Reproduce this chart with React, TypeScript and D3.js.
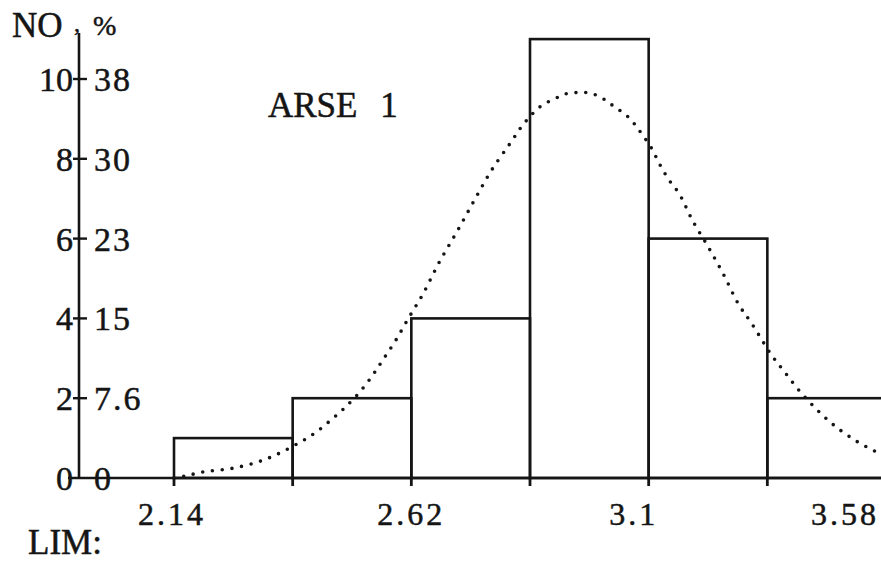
import React, { useRef, useEffect } from 'react';
import * as d3 from 'd3';

// histogram bins (class limits) and counts
const binEdges = [2.14, 2.38, 2.62, 2.86, 3.1, 3.34, 3.58];
const counts = [1, 2, 4, 11, 6, 2];

// axis labels
const noTicks = [0, 2, 4, 6, 8, 10];
const pctLabels = ['0', '7.6', '15', '23', '30', '38'];
const limTicks = [2.14, 2.62, 3.1, 3.58];
const limLabels = ['2.14', '2.62', '3.1', '3.58'];

// dotted fitted curve
const curveX = [2.14, 2.162, 2.203, 2.257, 2.314, 2.346, 2.378, 2.408, 2.432, 2.459, 2.482, 2.516, 2.542, 2.563, 2.587, 2.614, 2.643, 2.677, 2.713, 2.747, 2.781, 2.82, 2.847, 2.88, 2.916, 2.936, 2.956, 2.975, 2.993, 3.014, 3.032, 3.053, 3.07, 3.085, 3.106, 3.122, 3.141, 3.162, 3.188, 3.22, 3.251, 3.282, 3.309, 3.348, 3.376, 3.408, 3.443, 3.48, 3.522, 3.558];
const curveY = [0, 0.05, 0.16, 0.24, 0.42, 0.58, 0.78, 0.99, 1.19, 1.47, 1.72, 2.16, 2.58, 2.97, 3.42, 4.0, 4.6, 5.42, 6.19, 6.95, 7.69, 8.39, 8.87, 9.3, 9.54, 9.64, 9.66, 9.66, 9.6, 9.46, 9.29, 9.11, 8.89, 8.64, 8.26, 7.87, 7.47, 7.12, 6.47, 5.8, 5.11, 4.35, 3.86, 3.09, 2.64, 2.14, 1.68, 1.27, 0.91, 0.67];

const W = 881;
const H = 561;
const FONT = '"Liberation Serif", "DejaVu Serif", serif';
const INK = '#151515';

// horizontal nudges for the hand-placed LIM labels
const limShift = [-2, 0, -15, -41];

export default function App() {
  const svgRef = useRef(null);

  useEffect(() => {
    const svg = d3.select(svgRef.current);
    svg.selectAll('*').remove();

    const x = d3.scaleLinear().domain([2.14, 3.58]).range([174, 886]);
    const y = d3.scaleLinear().domain([0, 10]).range([478, 79]);
    const axisX = 79;

    // bars
    const bins = counts.map((c, i) => ({ x0: binEdges[i], x1: binEdges[i + 1], c }));
    svg.append('g')
      .selectAll('rect')
      .data(bins)
      .join('rect')
      .attr('x', d => x(d.x0))
      .attr('y', d => y(d.c))
      .attr('width', d => x(d.x1) - x(d.x0))
      .attr('height', d => y(0) - y(d.c))
      .attr('fill', 'none')
      .attr('stroke', INK)
      .attr('stroke-width', 2.6);

    // x axis line + ticks under the bin edges
    svg.append('line')
      .attr('x1', 68).attr('x2', W)
      .attr('y1', y(0)).attr('y2', y(0))
      .attr('stroke', INK).attr('stroke-width', 2.6);
    svg.append('g')
      .selectAll('line')
      .data(binEdges)
      .join('line')
      .attr('x1', d => x(d)).attr('x2', d => x(d))
      .attr('y1', y(0)).attr('y2', y(0) + 8)
      .attr('stroke', INK).attr('stroke-width', 2.8);

    // y axis
    svg.append('line')
      .attr('x1', axisX).attr('x2', axisX)
      .attr('y1', 33).attr('y2', y(0))
      .attr('stroke', INK).attr('stroke-width', 2.6);
    svg.append('g')
      .selectAll('line')
      .data(noTicks.filter(d => d > 0))
      .join('line')
      .attr('x1', axisX - 6).attr('x2', axisX + 8)
      .attr('y1', d => y(d)).attr('y2', d => y(d))
      .attr('stroke', INK).attr('stroke-width', 2.4);

    const txt = svg.append('g')
      .attr('font-family', FONT)
      .attr('fill', INK)
      .attr('stroke', INK)
      .attr('stroke-width', 0.5);

    txt.selectAll('text.no')
      .data(noTicks)
      .join('text')
      .attr('class', 'no')
      .attr('x', axisX - 6)
      .attr('y', d => y(d) + 12)
      .attr('text-anchor', 'end')
      .attr('font-size', 34)
      .text(d => d);

    txt.selectAll('text.pct')
      .data(pctLabels)
      .join('text')
      .attr('class', 'pct')
      .attr('x', axisX + 15)
      .attr('y', (d, i) => y(noTicks[i]) + 12)
      .attr('font-size', 34)
      .attr('letter-spacing', 2)
      .text(d => d);

    txt.selectAll('text.lim')
      .data(limTicks)
      .join('text')
      .attr('class', 'lim')
      .attr('x', (d, i) => x(d) + limShift[i])
      .attr('y', 525)
      .attr('text-anchor', 'middle')
      .attr('font-size', 32)
      .attr('letter-spacing', 3)
      .text((d, i) => limLabels[i]);

    txt.append('text').attr('x', 12).attr('y', 37).attr('font-size', 35).text('NO');
    txt.append('text').attr('x', 74).attr('y', 31).attr('font-size', 24).text(',');
    txt.append('text').attr('x', 93).attr('y', 35).attr('font-size', 28).text('%');
    txt.append('text').attr('x', 28).attr('y', 554).attr('font-size', 35).text('LIM:');
    txt.append('text').attr('x', 268).attr('y', 117).attr('font-size', 35)
      .attr('word-spacing', 14).text('ARSE 1');

    // dotted curve
    const pts = curveX.map((v, i) => [v, curveY[i]]);
    const line = d3.line()
      .x(d => x(d[0]))
      .y(d => y(d[1]))
      .curve(d3.curveCatmullRom);
    svg.append('path')
      .datum(pts)
      .attr('d', line)
      .attr('fill', 'none')
      .attr('stroke', INK)
      .attr('stroke-width', 3.6)
      .attr('stroke-linecap', 'round')
      .attr('stroke-dasharray', '0 9.8');
  }, []);

  return (
    <svg
      ref={svgRef}
      width={W}
      height={H}
      style={{ position: 'absolute', left: 0, top: 0, background: '#fff' }}
    />
  );
}
